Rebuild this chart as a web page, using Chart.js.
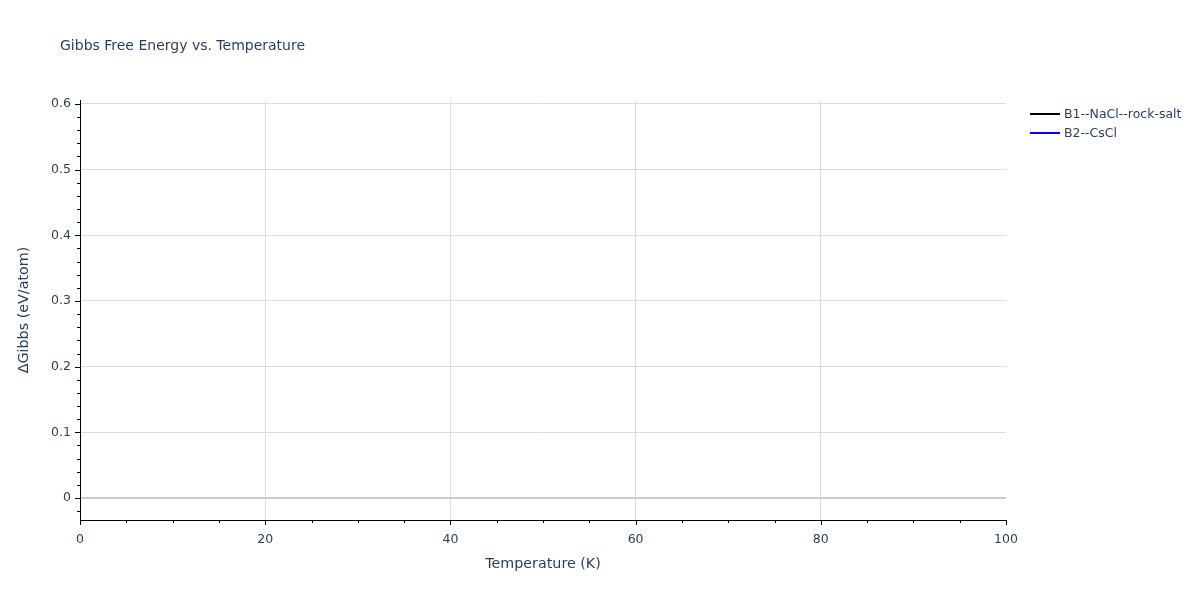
<!DOCTYPE html>
<html>
<head>
<meta charset="utf-8">
<script src="https://cdn.jsdelivr.net/npm/chart.js@4.4.1/dist/chart.umd.min.js"></script>
<style>
  body { margin: 0; background: #fff; font-family: "DejaVu Sans", Verdana, Arial, sans-serif; }
  #wrap { position: relative; width: 1200px; height: 600px; }
  #title { position: absolute; left: 60px; top: 37px; font-size: 14px; color: #2a3f5f; white-space: nowrap; }
  #legend { position: absolute; left: 1030px; top: 104px; font-size: 12.5px; color: #2a3f5f; }
  .item { height: 19px; display: flex; align-items: center; white-space: nowrap; }
  .swatch { width: 30px; height: 2px; margin-right: 4px; }
</style>
</head>
<body>
<div id="wrap">
  <canvas id="chart"></canvas>
  <div id="title">Gibbs Free Energy vs. Temperature</div>
  <div id="legend"></div>
</div>
<script>
// Data (no curve is drawn inside the visible range)
const seriesNames = ["B1--NaCl--rock-salt", "B2--CsCl"];
const seriesColors = ["#000000", "#0000ff"];
const temperature = [];
const gibbsB1 = [];
const gibbsB2 = [];

const xMin = 0, xMax = 100, xStep = 5, xMajor = 20;
const yMin = -0.0335, yMax = 0.606, yStep = 0.02, yMajor = 0.1;

const textColor = "#2a3f5f";
const fontFamily = "'DejaVu Sans', Verdana, Arial";
const isMult = (v, m) => Math.abs(v / m - Math.round(v / m)) < 1e-6;

// Legend
const legend = document.getElementById("legend");
seriesNames.forEach((name, i) => {
  const row = document.createElement("div");
  row.className = "item";
  row.innerHTML = `<span class="swatch" style="background:${seriesColors[i]}"></span>${name}`;
  legend.appendChild(row);
});

// Outside tick marks (major and minor), drawn from the scales' own ticks
const tickMarks = {
  id: "tickMarks",
  afterDraw(chart) {
    const ctx = chart.ctx;
    const xs = chart.scales.x, ys = chart.scales.y;
    const area = chart.chartArea;
    ctx.save();
    ctx.strokeStyle = "#000";
    ctx.lineWidth = 1;
    xs.ticks.forEach((t) => {
      const px = Math.round(xs.getPixelForValue(t.value)) + 0.5;
      const len = isMult(t.value, xMajor) ? 5 : 3;
      ctx.beginPath();
      ctx.moveTo(px, area.bottom);
      ctx.lineTo(px, area.bottom + len);
      ctx.stroke();
    });
    ys.ticks.forEach((t) => {
      const py = Math.round(ys.getPixelForValue(t.value)) + 0.5;
      const len = isMult(t.value, yMajor) ? 5 : 3;
      ctx.beginPath();
      ctx.moveTo(area.left, py);
      ctx.lineTo(area.left - len, py);
      ctx.stroke();
    });
    ctx.restore();
  },
};

const datasets = [gibbsB1, gibbsB2].map((vals, i) => ({
  label: seriesNames[i],
  data: temperature.map((t, j) => ({ x: t, y: vals[j] })),
  borderColor: seriesColors[i],
  backgroundColor: seriesColors[i],
  borderWidth: 2,
  pointRadius: 0,
  fill: false,
}));

new Chart(document.getElementById("chart").getContext("2d"), {
  type: "line",
  data: { datasets },
  plugins: [tickMarks],
  options: {
    responsive: true,
    maintainAspectRatio: false,
    animation: false,
    layout: { padding: { top: 100, right: 194, left: 0, bottom: 0 } },
    plugins: { legend: { display: false }, tooltip: { enabled: false } },
    scales: {
      x: {
        type: "linear",
        min: xMin,
        max: xMax,
        afterFit: (s) => { s.height = 80; },
        ticks: {
          stepSize: xStep,
          includeBounds: false,
          autoSkip: false,
          maxRotation: 0,
          padding: 12,
          color: textColor,
          font: { family: fontFamily, size: 12.5 },
          callback: (v) => (isMult(v, xMajor) ? v : ""),
        },
        grid: {
          drawTicks: false,
          color: (c) => {
            const v = c.tick.value;
            return isMult(v, xMajor) && v > xMin && v < xMax ? "#dddddd" : "rgba(0,0,0,0)";
          },
        },
        border: { display: true, color: "#000", width: 1 },
        title: {
          display: true,
          text: "Temperature (K)",
          color: textColor,
          font: { family: fontFamily, size: 14.3 },
          padding: { top: 0, bottom: 27 },
        },
      },
      y: {
        type: "linear",
        min: yMin,
        max: yMax,
        afterFit: (s) => { s.width = 80; },
        afterBuildTicks: (s) => {
          s.ticks = s.ticks.filter((t) => isMult(t.value, yStep));
        },
        ticks: {
          stepSize: yStep,
          includeBounds: false,
          autoSkip: false,
          padding: 9,
          color: textColor,
          font: { family: fontFamily, size: 12.5 },
          callback: (v) => (isMult(v, yMajor) ? (Math.abs(v) < 1e-9 ? "0" : +v.toFixed(1)) : ""),
        },
        grid: {
          drawTicks: false,
          color: (c) => {
            const v = c.tick.value;
            if (Math.abs(v) < 1e-9) return "#cccccc";
            return isMult(v, yMajor) ? "#dddddd" : "rgba(0,0,0,0)";
          },
          lineWidth: (c) => (Math.abs(c.tick.value) < 1e-9 ? 2 : 1),
        },
        border: { display: true, color: "#000", width: 1 },
        title: {
          display: true,
          text: "ΔGibbs (eV/atom)",
          color: textColor,
          font: { family: fontFamily, size: 14.3 },
          padding: { top: 16, bottom: 0 },
        },
      },
    },
  },
});
</script>
</body>
</html>
